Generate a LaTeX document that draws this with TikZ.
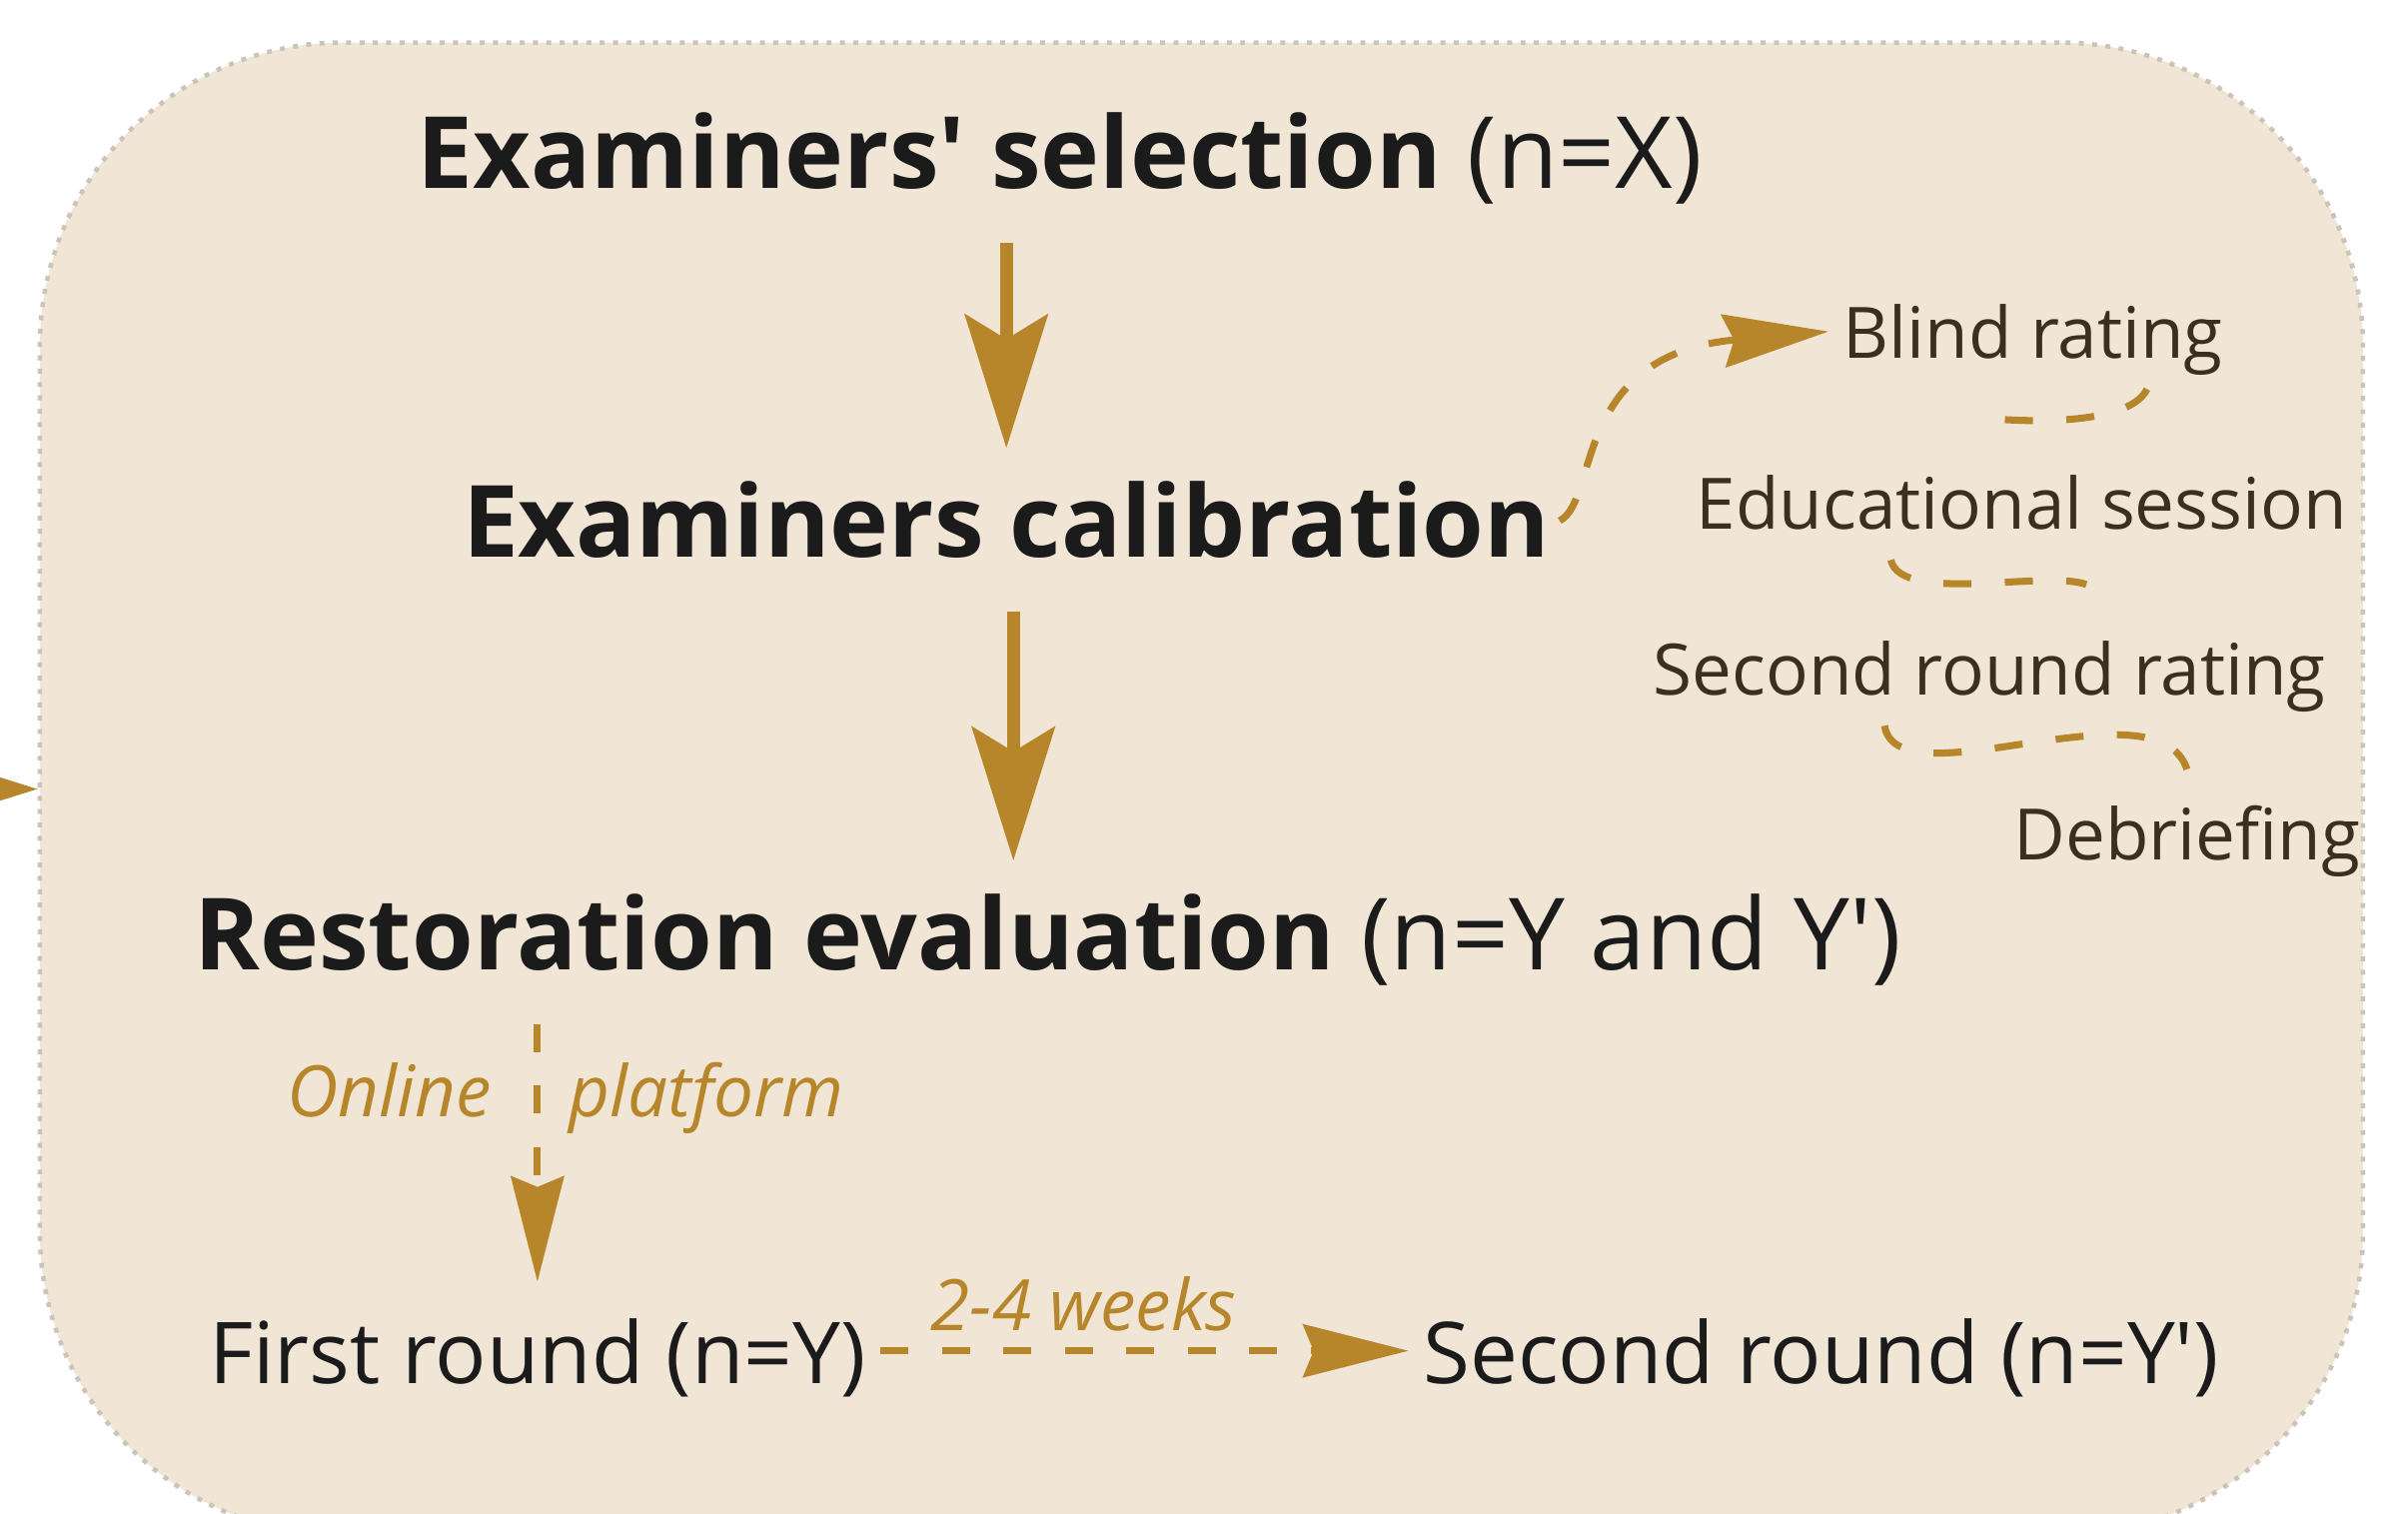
\documentclass[tikz,border=0pt]{standalone}
\usepackage{fontspec}
\setmainfont{Open Sans}[Ligatures=TeXOff]
\usetikzlibrary{arrows.meta}
\definecolor{panelbg}{HTML}{F1E6D6}
\definecolor{panelrim}{HTML}{CAC4BA}
\definecolor{gold}{HTML}{B8862A}
\definecolor{ink}{HTML}{1B1B1B}
\definecolor{umber}{HTML}{3A3020}
\begin{document}
\begin{tikzpicture}[x=0.00993cm, y=0.01cm,
    panel/.style={draw=panelrim, fill=panelbg, line width=1.3pt, dash pattern=on 1.4pt off 2.4pt,
      rounded corners=3.04cm, minimum width=23.25cm, minimum height=14.94cm, inner sep=0pt},
    headbox/.style={font=\fontsize{28.4}{34}\selectfont, text=ink, anchor=base,
      text height=22.7pt, text depth=7pt, inner sep=8.2pt},
    roundbox/.style={font=\fontsize{24.3}{30}\selectfont, text=ink, anchor=base,
      text height=24.7pt, text depth=6.2pt, inner sep=4pt},
    substep/.style={font=\fontsize{20.2}{25}\selectfont, text=umber, anchor=base,
      text height=27.3pt, text depth=4.5pt, inner sep=4pt},
    notelabel/.style={font=\fontsize{20.2}{25}\selectfont\itshape, text=gold, inner sep=0pt},
    flow/.style={draw=gold, line width=3.6pt, -{Stealth[length=38pt, width=23.5pt, inset=7pt]}},
    link/.style={draw=gold, line width=2pt, dash pattern=on 8pt off 9.5pt},
    linkarrow/.style={link, -{Stealth[length=30pt, width=15pt, inset=3pt]}}]
  \useasboundingbox (0cm,0cm) rectangle (24.1cm,-15.14cm);
  \node[panel] (panel) at (1210.5,-790) {};
  \draw[flow] (-200,-790) -- (panel.west);
  % main steps
  \node[headbox] (sel) at (1068,-189) {\textbf{Examiners' selection} (n=X)};
  \node[headbox] (cal) at (1014,-558) {\textbf{Examiners calibration}};
  \node[headbox] (restor) at (1056,-971) {\textbf{Restoration evaluation} (n=Y and Y')};
  \node[roundbox] (first) at (541.5,-1385) {First round (n=Y)};
  \node[roundbox] (second) at (1835,-1385) {Second round (n=Y')};
  % calibration sub-steps
  \node[substep] (blind) at (2048.5,-359) {Blind rating};
  \node[substep] (edu) at (2037,-530) {Educational session};
  \node[substep] (secr) at (2004.5,-696) {Second round rating};
  \node[substep] (debr) at (2203.5,-861) {Debriefing};
  % labels
  \node[notelabel, anchor=base east] (online) at (496,-1118) {Online};
  \node[notelabel, anchor=base west] (platf) at (573,-1118) {platform};
  \node[notelabel, anchor=base] (weeks) at (1092,-1332) {2-4 weeks};
  \begin{scope}
    \draw[flow] (sel.south -| cal) -- (cal.north);
    \draw[flow] ([xshift=0.07cm]cal.south) -- ([xshift=0.07cm]cal.south |- restor.north);
    \draw[linkarrow] (first.north |- restor.south) -- (first.north);
    \draw[linkarrow] (first.east) -- (second.west);
    \draw[linkarrow] ([xshift=-0.2cm,yshift=0.09cm]cal.east) .. controls +(40,20) and +(-260,-23) .. ([yshift=-0.13cm]blind.west);
    \draw[link] ([xshift=1.14cm]blind.south) .. controls +(-15,-31) and +(63,-5) .. ([xshift=-0.3cm]edu.north);
    \draw[link] ([xshift=-1.31cm]edu.south) .. controls +(10,-45) and +(-40,15) .. ([xshift=0.97cm]secr.north);
    \draw[link] ([xshift=-1.05cm]secr.south) .. controls +(13,-79) and +(-30,91) .. ([yshift=-0.2cm]debr.north);
  \end{scope}
\end{tikzpicture}
\end{document}
